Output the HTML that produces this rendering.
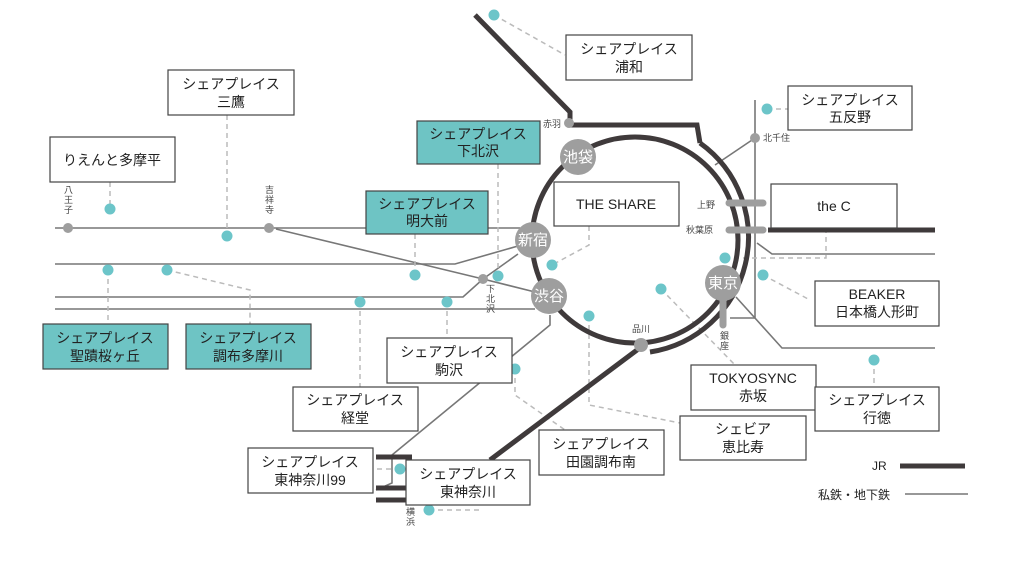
<!DOCTYPE html>
<html><head><meta charset="utf-8"><style>
body{margin:0;background:#fff}
svg{display:block}
text{font-family:"Liberation Sans","Noto Sans CJK JP",sans-serif;fill:#222}
.b{fill:#fff;stroke:#444;stroke-width:1.2}
.t{fill:#6ec4c4;stroke:#444;stroke-width:1.2}
.d{stroke:#bbb;stroke-width:1.5;stroke-dasharray:5 4;fill:none}
.p{stroke:#777;stroke-width:1.6;fill:none}
.j{stroke:#3f3a3b;stroke-width:5;fill:none}
.dot{fill:#6cc5c9}
.lab{font-size:14px;text-anchor:middle}
.sm{font-size:9px;fill:#444}
.st{fill:#9e9e9e}
.stt{font-size:15px;fill:#fff;text-anchor:middle}
</style></head><body>
<svg width="1024" height="576" viewBox="0 0 1024 576">
<path class="p" d="M55 228H520"/>
<path class="p" d="M276 229L483 279L535 292"/>
<path class="p" d="M55 264H455L518 246"/>
<path class="p" d="M55 297H463L483 279L518 254"/>
<path class="p" d="M55 309H535"/>
<path class="p" d="M550 315V325L392 455V483L376 490"/>
<path class="p" d="M755 100V318H730"/>
<path class="p" d="M755 138L715 165"/>
<path class="p" d="M757 243L772 254H935"/>
<path class="p" d="M736 297L782 348H935"/>
<path class="d" d="M494 15L565 55"/>
<path class="d" d="M767 109H788"/>
<path class="d" d="M227 115V236"/>
<path class="d" d="M110 182V209"/>
<path class="d" d="M498 164V276"/>
<path class="d" d="M415 234V275"/>
<path class="d" d="M589 226V245L552 265"/>
<path class="d" d="M826 228V258H735"/>
<path class="d" d="M763 275L810 300"/>
<path class="d" d="M661 289L735 365"/>
<path class="d" d="M108 270V322"/>
<path class="d" d="M167 270L250 290V324"/>
<path class="d" d="M360 302V387"/>
<path class="d" d="M447 302V338"/>
<path class="d" d="M589 316V405L680 423"/>
<path class="d" d="M515 369V395L565 430"/>
<path class="d" d="M874 360V387"/>
<path class="d" d="M400 469H376"/>
<path class="d" d="M429 510H480"/>
<circle class="j" cx="635" cy="240" r="103"/>
<path class="j" d="M475 15L570 112V125H697L700 143"/>
<path class="j" d="M700 143A116 116 0 0 1 650 352"/>
<path class="j" d="M641 347L490 460"/>
<path class="j" d="M768 230H935"/>
<path class="j" d="M376 457H412M376 488H412M376 500H412"/>
<path d="M729 203H763M729 230H763" stroke="#9e9e9e" stroke-width="7" stroke-linecap="round"/>
<path d="M723 300V325" stroke="#9e9e9e" stroke-width="7" stroke-linecap="round"/>
<circle class="st" cx="578" cy="157" r="18"/><text class="stt" x="578" y="162">池袋</text>
<circle class="st" cx="533" cy="240" r="18"/><text class="stt" x="533" y="245">新宿</text>
<circle class="st" cx="549" cy="296" r="18"/><text class="stt" x="549" y="301">渋谷</text>
<circle class="st" cx="723" cy="283" r="18"/><text class="stt" x="723" y="288">東京</text>
<circle class="st" cx="641" cy="345" r="7"/>
<circle class="st" cx="569" cy="123" r="5"/>
<circle class="st" cx="755" cy="138" r="5"/>
<circle class="st" cx="68" cy="228" r="5"/>
<circle class="st" cx="269" cy="228" r="5"/>
<circle class="st" cx="483" cy="279" r="5"/>
<text class="sm" x="543" y="127">赤羽</text>
<text class="sm" x="763" y="141">北千住</text>
<text class="sm" x="697" y="208">上野</text>
<text class="sm" x="686" y="233">秋葉原</text>
<text class="sm" x="632" y="332">品川</text>
<text class="sm" x="64" y="193">八</text><text class="sm" x="64" y="203">王</text><text class="sm" x="64" y="213">子</text>
<text class="sm" x="265" y="193">吉</text><text class="sm" x="265" y="203">祥</text><text class="sm" x="265" y="213">寺</text>
<text class="sm" x="486" y="292">下</text><text class="sm" x="486" y="302">北</text><text class="sm" x="486" y="312">沢</text>
<text class="sm" x="720" y="339">銀</text><text class="sm" x="720" y="349">座</text>
<text class="sm" x="406" y="515">横</text><text class="sm" x="406" y="525">浜</text>
<g class="dot">
<circle cx="494" cy="15" r="5.5"/><circle cx="767" cy="109" r="5.5"/><circle cx="110" cy="209" r="5.5"/>
<circle cx="227" cy="236" r="5.5"/><circle cx="108" cy="270" r="5.5"/><circle cx="167" cy="270" r="5.5"/>
<circle cx="415" cy="275" r="5.5"/><circle cx="498" cy="276" r="5.5"/><circle cx="360" cy="302" r="5.5"/>
<circle cx="447" cy="302" r="5.5"/><circle cx="552" cy="265" r="5.5"/><circle cx="725" cy="258" r="5.5"/>
<circle cx="763" cy="275" r="5.5"/><circle cx="661" cy="289" r="5.5"/><circle cx="589" cy="316" r="5.5"/>
<circle cx="874" cy="360" r="5.5"/><circle cx="515" cy="369" r="5.5"/><circle cx="400" cy="469" r="5.5"/>
<circle cx="429" cy="510" r="5.5"/>
</g>
<rect class="b" x="566" y="35" width="126" height="45"/><text class="lab" x="629" y="54">シェアプレイス</text><text class="lab" x="629" y="72">浦和</text>
<rect class="b" x="788" y="86" width="124" height="44"/><text class="lab" x="850" y="105">シェアプレイス</text><text class="lab" x="850" y="122">五反野</text>
<rect class="b" x="168" y="70" width="126" height="45"/><text class="lab" x="231" y="89">シェアプレイス</text><text class="lab" x="231" y="107">三鷹</text>
<rect class="b" x="50" y="137" width="125" height="45"/><text class="lab" x="112" y="165">りえんと多摩平</text>
<rect class="t" x="417" y="121" width="123" height="43"/><text class="lab" x="478" y="139">シェアプレイス</text><text class="lab" x="478" y="156">下北沢</text>
<rect class="t" x="366" y="191" width="122" height="43"/><text class="lab" x="427" y="209">シェアプレイス</text><text class="lab" x="427" y="226">明大前</text>
<rect class="b" x="554" y="182" width="125" height="44"/><text class="lab" x="616" y="209">THE SHARE</text>
<rect class="b" x="771" y="184" width="126" height="44"/><text class="lab" x="834" y="211">the C</text>
<rect class="b" x="815" y="281" width="124" height="45"/><text class="lab" x="877" y="299">BEAKER</text><text class="lab" x="877" y="317">日本橋人形町</text>
<rect class="t" x="43" y="324" width="125" height="45"/><text class="lab" x="105" y="343">シェアプレイス</text><text class="lab" x="105" y="361">聖蹟桜ヶ丘</text>
<rect class="t" x="186" y="324" width="125" height="45"/><text class="lab" x="248" y="343">シェアプレイス</text><text class="lab" x="248" y="361">調布多摩川</text>
<rect class="b" x="387" y="338" width="125" height="45"/><text class="lab" x="449" y="357">シェアプレイス</text><text class="lab" x="449" y="375">駒沢</text>
<rect class="b" x="293" y="387" width="125" height="44"/><text class="lab" x="355" y="405">シェアプレイス</text><text class="lab" x="355" y="423">経堂</text>
<rect class="b" x="691" y="365" width="125" height="45"/><text class="lab" x="753" y="383">TOKYOSYNC</text><text class="lab" x="753" y="401">赤坂</text>
<rect class="b" x="815" y="387" width="124" height="44"/><text class="lab" x="877" y="405">シェアプレイス</text><text class="lab" x="877" y="423">行徳</text>
<rect class="b" x="680" y="416" width="126" height="44"/><text class="lab" x="743" y="434">シェビア</text><text class="lab" x="743" y="452">恵比寿</text>
<rect class="b" x="539" y="430" width="125" height="45"/><text class="lab" x="601" y="449">シェアプレイス</text><text class="lab" x="601" y="467">田園調布南</text>
<rect class="b" x="248" y="448" width="125" height="45"/><text class="lab" x="310" y="467">シェアプレイス</text><text class="lab" x="310" y="485">東神奈川99</text>
<rect class="b" x="406" y="460" width="124" height="45"/><text class="lab" x="468" y="479">シェアプレイス</text><text class="lab" x="468" y="497">東神奈川</text>
<text x="872" y="470" style="font-size:12px">JR</text>
<path d="M900 466H965" stroke="#3f3a3b" stroke-width="5"/>
<text x="818" y="499" style="font-size:12px">私鉄・地下鉄</text>
<path d="M905 494H968" stroke="#777" stroke-width="1.6"/>
</svg>
</body></html>
